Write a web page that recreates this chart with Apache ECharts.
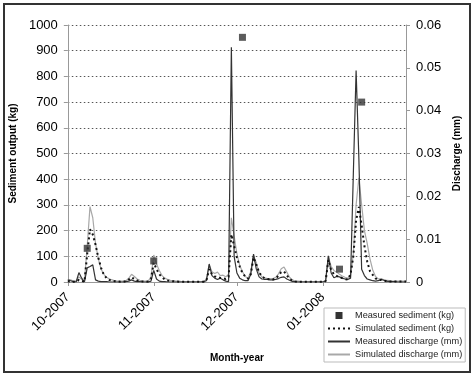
<!DOCTYPE html>
<html>
<head>
<meta charset="utf-8">
<script src="https://cdn.jsdelivr.net/npm/echarts@6/dist/echarts.min.js"></script>
<style>
  html, body { margin: 0; padding: 0; background: #fff; }
  #chart { width: 474px; height: 378px; }
</style>
</head>
<body>
<div id="chart"></div>
<script>
// daily series, 1 Oct 2007 .. 31 Jan 2008
var startDay = '2007-10-01';
var dayCount = 123;

var monthTicks = ['10-2007', '11-2007', '12-2007', '01-2008'];

// measured sediment (kg), sparse samples
var measuredSedDates = ['2007-10-08', '2007-11-01', '2007-12-03', '2008-01-07', '2008-01-15'];
var measuredSed = [131, 82, 952, 50, 700];

// simulated sediment (kg)
var simulatedSed = [
  3, 2, 1, 1, 8, 4, 1, 110, 205, 185, 145, 95, 55,
  28, 15, 8, 5, 3, 2, 1, 1, 3, 10, 18, 12, 6, 3, 2, 1, 2,
  12, 75, 50, 30, 18, 10, 6, 4, 3, 2,
  1, 1, 1, 1, 1, 1, 1, 1, 1, 1,
  6, 50, 30, 22, 19, 16, 14, 12, 20, 185, 140, 95, 60, 35, 22, 13,
  30, 95, 68, 38, 22, 14, 12, 10, 10, 13, 25, 38, 41, 26, 12, 5, 2,
  1, 1, 1, 1, 1, 1, 1, 1, 1, 1,
  3, 85, 47, 30, 24, 20, 15, 11, 10, 30, 100, 240, 292, 220, 140, 80, 42, 28, 14, 8,
  8, 5, 3, 2, 2, 2, 2, 2, 2, 2
];

// measured discharge (mm)
var measuredQ = [
  0.0005, 0.0003, 0.0001, 0, 0.0022, 0.0009, 0, 0.0033, 0.0036, 0.004, 0.0005, 0.0002, 0.0001,
  0.0001, 0.0001, 0, 0, 0, 0, 0, 0, 0.0001,
  0.0002, 0.0005, 0.0002, 0.0001,
  0.0001, 0, 0, 0,
  0.0002, 0.0027, 0.0007, 0.0002, 0.0001,
  0.0001, 0, 0, 0, 0, 0, 0, 0, 0, 0, 0, 0, 0, 0, 0.0001,
  0.0003, 0.0042, 0.0015, 0.0009, 0.0006, 0.0009, 0.0005, 0.0002, 0.0001, 0.0548, 0.006, 0.0021,
  0.0009, 0.0005, 0.0003, 0.0003, 0.0018, 0.0065, 0.003, 0.0012, 0.0007, 0.0006, 0.0006, 0.0005,
  0.0005, 0.0006, 0.0008, 0.0011, 0.0012, 0.0007, 0.0004, 0.0001,
  0.0001, 0, 0, 0, 0, 0, 0, 0, 0, 0, 0,
  0.0002, 0.0061, 0.0021, 0.001, 0.0013, 0.0012, 0.0009, 0.0007, 0.0006, 0.0009, 0.0252, 0.0494,
  0.0288, 0.003, 0.0015, 0.0007, 0.0005, 0.0003, 0.0002, 0.0003, 0.0006, 0.0004, 0.0002,
  0.0001, 0.0001, 0.0001, 0, 0, 0, 0
];

// simulated discharge (mm)
var simulatedQ = [
  0.0006, 0.0005, 0.0002, 0.0002, 0.0012, 0.0006, 0.0002, 0.0084, 0.0176, 0.015, 0.009, 0.0054,
  0.003, 0.0018, 0.0011, 0.0007, 0.0005, 0.0003, 0.0002, 0.0002, 0.0002, 0.0003, 0.0009, 0.0018,
  0.0013, 0.0007, 0.0004, 0.0002, 0.0002, 0.0002, 0.0012, 0.0063, 0.0042, 0.0027, 0.0015, 0.0009,
  0.0006, 0.0004, 0.0003, 0.0002, 0.0002,
  0.0001, 0.0001, 0.0001, 0.0001, 0.0001, 0.0001, 0.0001, 0.0001, 0.0001,
  0.0006, 0.004, 0.0024, 0.002, 0.0023, 0.0015, 0.0016, 0.0012, 0.0018, 0.015, 0.0108, 0.0066,
  0.0039, 0.0024, 0.0013, 0.0009, 0.0024, 0.0062, 0.0045, 0.0021, 0.0012, 0.001, 0.0008, 0.0008,
  0.0008, 0.0011, 0.0019, 0.0031, 0.0035, 0.0023, 0.0011, 0.0005, 0.0002, 0.0002,
  0.0001, 0.0001, 0.0001, 0.0001, 0.0001, 0.0001, 0.0001, 0.0001, 0.0001,
  0.0003, 0.006, 0.0036, 0.0027, 0.0023, 0.0018, 0.0014, 0.0011, 0.0009, 0.0013, 0.0066, 0.018,
  0.0243, 0.018, 0.012, 0.009, 0.0054, 0.0028, 0.0013, 0.0007, 0.0008, 0.0005, 0.0004, 0.0003, 0.0002,
  0.0002, 0.0002, 0.0002, 0.0002, 0.0002
];

var days = [];
var t0 = Date.parse(startDay + 'T00:00:00Z');
for (var i = 0; i < dayCount; i++) {
  days.push(new Date(t0 + i * 86400000).toISOString().slice(0, 10));
}

function isMonthStart(idx, val) {
  return val.slice(8) === '01';
}

var font = '"Liberation Sans", Arial, sans-serif';
var nameStyle = { fontFamily: font, fontSize: 10, fontWeight: 'bold', color: '#000' };

var chart = echarts.init(document.getElementById('chart'));

var option = {
  animation: false,
  backgroundColor: '#fff',
  textStyle: { fontFamily: font },
  graphic: [{
    type: 'rect',
    shape: { x: 4, y: 4, width: 466, height: 368 },
    style: { fill: 'none', stroke: '#333', lineWidth: 2 },
    silent: true
  }],
  grid: { left: 62, top: 25, right: 68, bottom: 96 },
  legend: {
    orient: 'vertical',
    left: 324,
    top: 308,
    padding: [3, 3, 3, 3],
    itemWidth: 22,
    itemHeight: 7,
    itemGap: 4,
    borderColor: '#bbb',
    borderWidth: 1,
    itemStyle: { opacity: 0 },
    textStyle: { fontFamily: font, fontSize: 9.2, color: '#222' },
    data: [
      { name: 'Measured sediment (kg)', icon: 'path://M0,0h10v10h-10z', itemStyle: { opacity: 1, color: '#333' } },
      'Simulated sediment (kg)',
      'Measured discharge (mm)',
      'Simulated discharge (mm)'
    ]
  },
  xAxis: {
    type: 'category',
    data: days,
    boundaryGap: false,
    name: 'Month-year',
    nameLocation: 'middle',
    nameGap: 71,
    nameTextStyle: nameStyle,
    axisLine: { lineStyle: { color: '#999' } },
    axisTick: { interval: isMonthStart, length: 4, lineStyle: { color: '#999' } },
    axisLabel: {
      interval: isMonthStart,
      rotate: 45,
      margin: 13,
      fontSize: 13,
      color: '#000',
      formatter: function (val) {
        var m = Number(val.slice(5, 7));
        return monthTicks[(m + 2) % 12];
      }
    },
    splitLine: { show: false }
  },
  yAxis: [{
    type: 'value',
    min: 0,
    max: 1000,
    interval: 100,
    name: 'Sediment output (kg)',
    nameLocation: 'middle',
    nameGap: 43,
    nameRotate: 90,
    nameTextStyle: nameStyle,
    axisLine: { show: true, lineStyle: { color: '#999' } },
    axisTick: { show: true, length: 4, lineStyle: { color: '#999' } },
    axisLabel: {
      fontSize: 13, color: '#000', margin: 10,
      formatter: function (v) { return String(v); }
    },
    splitLine: { lineStyle: { color: '#555', type: [1.5, 2.5], width: 1 } }
  }, {
    type: 'value',
    min: 0,
    max: 0.06,
    interval: 0.01,
    position: 'right',
    name: 'Discharge (mm)',
    nameLocation: 'middle',
    nameGap: 45,
    nameRotate: 90,
    nameTextStyle: nameStyle,
    axisLine: { show: true, lineStyle: { color: '#999' } },
    axisTick: { show: true, length: 4, lineStyle: { color: '#999' } },
    axisLabel: {
      fontSize: 13, color: '#000', margin: 10,
      formatter: function (v) { return v === 0 ? '0' : v.toFixed(2); }
    },
    splitLine: { show: false }
  }],
  series: [{
    name: 'Measured sediment (kg)',
    type: 'scatter',
    yAxisIndex: 0,
    symbol: 'rect',
    symbolSize: 7,
    itemStyle: { color: '#333' },
    data: measuredSedDates.map(function (d, i) { return [d, measuredSed[i]]; }),
    z: 5
  }, {
    name: 'Simulated sediment (kg)',
    type: 'line',
    yAxisIndex: 0,
    symbol: 'none',
    lineStyle: { color: '#111', width: 2, type: [2, 3] },
    itemStyle: { color: '#111' },
    data: simulatedSed,
    z: 4
  }, {
    name: 'Measured discharge (mm)',
    type: 'line',
    yAxisIndex: 1,
    symbol: 'none',
    lineStyle: { color: '#333', width: 1.2 },
    itemStyle: { color: '#333' },
    data: measuredQ,
    z: 3
  }, {
    name: 'Simulated discharge (mm)',
    type: 'line',
    yAxisIndex: 1,
    symbol: 'none',
    lineStyle: { color: '#a8a8a8', width: 1.2 },
    itemStyle: { color: '#a8a8a8' },
    data: simulatedQ,
    z: 2
  }]
};

chart.setOption(option);
</script>
</body>
</html>
